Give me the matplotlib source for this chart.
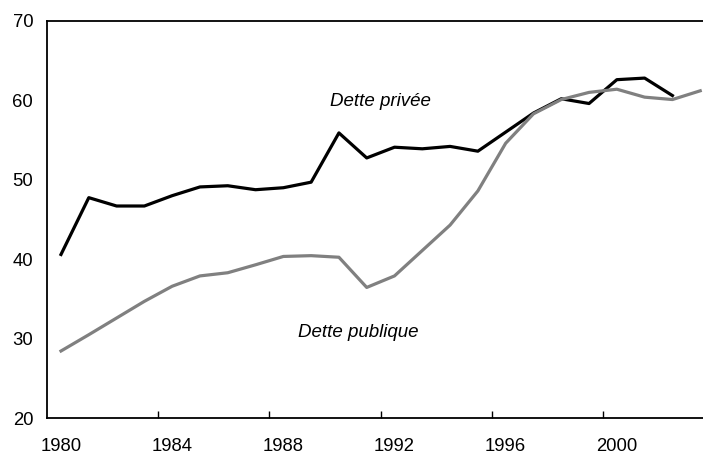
import numpy as np
from matplotlib import pyplot as plt

plt.rcParams['font.family'] = ['Liberation Sans', 'DejaVu Sans']

years = np.arange(1980, 2004)
dette_privee = [40.6, 47.75, 46.7, 46.7, 48.0, 49.1, 49.25, 48.75, 49.0, 49.7,
                55.9, 52.75, 54.1, 53.9, 54.2, 53.6, 56.0, 58.4, 60.2, 59.6,
                62.6, 62.8, 60.6]
dette_publique = [28.45, 30.5, 32.6, 34.7, 36.6, 37.9, 38.3, 39.3, 40.35, 40.45,
                  40.25, 36.45, 37.9, 41.1, 44.3, 48.6, 54.6, 58.3, 60.1, 61.0,
                  61.4, 60.4, 60.1, 61.2]
tick_years = [1980, 1984, 1988, 1992, 1996, 2000]

fig = plt.figure(figsize=(7.03, 4.54), dpi=100)
ax = fig.add_axes([0.067, 0.079, 0.933, 0.875])

# points sit in the middle of each year
ax.plot(years[:len(dette_privee)] + 0.5, dette_privee, color='black', lw=2.3)
ax.plot(years + 0.5, dette_publique, color='#808080', lw=2.3)

ax.text(1992.0, 59.9, 'Dette privée', style='italic', fontsize=13.5, ha='center', va='center')
ax.text(1991.2, 30.8, 'Dette publique', style='italic', fontsize=13.5, ha='center', va='center')

ax.set_xlim(1980, 2003.6)
ax.set_ylim(20, 70)
ax.set_yticks([20, 30, 40, 50, 60, 70])
ax.set_xticks([y + 0.5 for y in tick_years])
ax.set_xticklabels([str(y) for y in tick_years])
ax.set_xticks(tick_years[1:], minor=True)
ax.tick_params(axis='x', which='major', length=0, pad=14, labelsize=13.3)
ax.tick_params(axis='x', which='minor', direction='in', length=5, width=1)
ax.tick_params(axis='y', length=0, pad=10, labelsize=13.3)

ax.spines['right'].set_visible(False)
for s in ['left', 'bottom', 'top']:
    ax.spines[s].set_linewidth(1.3)

plt.savefig('out.png', dpi=100)
